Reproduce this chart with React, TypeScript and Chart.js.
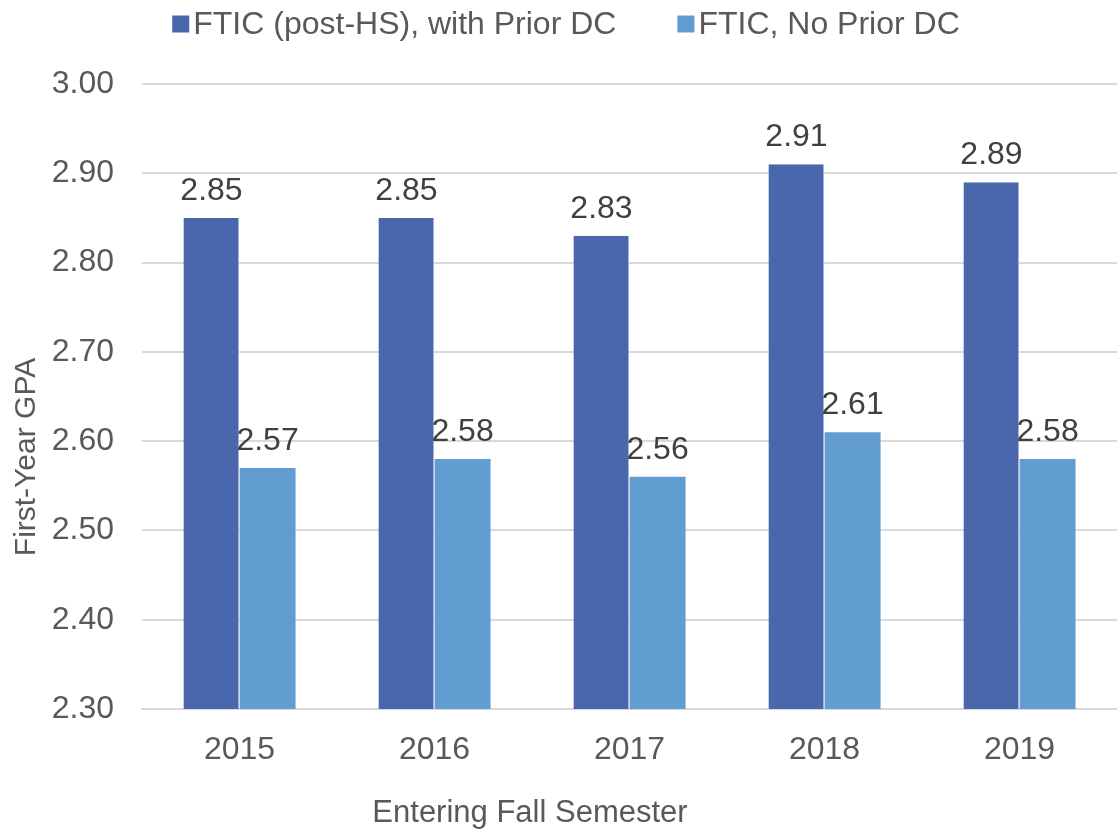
import React, { useEffect, useRef } from "react";
import { Chart, registerables } from "chart.js";

Chart.register(...registerables);

const categories = ["2015", "2016", "2017", "2018", "2019"];
const seriesNames = ["FTIC (post-HS), with Prior DC", "FTIC, No Prior DC"];
const withPriorDC = [2.85, 2.85, 2.83, 2.91, 2.89];
const noPriorDC = [2.57, 2.58, 2.56, 2.61, 2.58];
const seriesColors = ["#4A66AC", "#629DD1"];
const yTitle = "First-Year GPA";
const xTitle = "Entering Fall Semester";

const FONT = "'Liberation Sans', Arial, sans-serif";

const dataLabelPlugin = {
  id: "dataLabels",
  afterDatasetsDraw(chart: any) {
    const ctx = chart.ctx;
    ctx.save();
    ctx.font = `32px ${FONT}`;
    ctx.fillStyle = "#404040";
    ctx.textAlign = "center";
    ctx.textBaseline = "alphabetic";
    chart.data.datasets.forEach((ds: any, i: number) => {
      const meta = chart.getDatasetMeta(i);
      meta.data.forEach((bar: any, j: number) => {
        ctx.fillText(Number(ds.data[j]).toFixed(2), bar.x, bar.y - 18);
      });
    });
    ctx.restore();
  },
};

const decorPlugin = {
  id: "decor",
  afterDraw(chart: any) {
    const ctx = chart.ctx;
    ctx.save();
    // Legend
    ctx.font = `32px ${FONT}`;
    ctx.textBaseline = "middle";
    ctx.textAlign = "left";
    const box = 17;
    const gap = 4;
    const itemGap = 61;
    const widths = chart.data.datasets.map((d: any) => ctx.measureText(d.label).width);
    const total =
      widths.reduce((a: number, w: number) => a + box + gap + w, 0) + itemGap * (widths.length - 1);
    let x = 566 - total / 2;
    const cy = 24;
    chart.data.datasets.forEach((d: any, i: number) => {
      ctx.fillStyle = d.backgroundColor;
      ctx.fillRect(x, cy - box / 2, box, box);
      ctx.fillStyle = "#595959";
      ctx.fillText(d.label, x + box + gap, cy + 1);
      x += box + gap + widths[i] + itemGap;
    });
    // X title
    ctx.font = `31px ${FONT}`;
    ctx.textAlign = "center";
    ctx.fillStyle = "#595959";
    ctx.fillText(xTitle, 530, 813);
    // Y title
    ctx.font = `30px ${FONT}`;
    ctx.translate(27, 457);
    ctx.rotate(-Math.PI / 2);
    ctx.fillText(yTitle, 0, 0);
    ctx.restore();
  },
};

export default function App() {
  const ref = useRef<HTMLCanvasElement>(null);
  useEffect(() => {
    if (!ref.current) return;
    const chart = new Chart(ref.current, {
      type: "bar",
      data: {
        labels: categories,
        datasets: [
          {
            label: seriesNames[0],
            data: withPriorDC,
            backgroundColor: seriesColors[0],
            borderColor: "#ffffff",
            borderWidth: { right: 1 },
          },
          {
            label: seriesNames[1],
            data: noPriorDC,
            backgroundColor: seriesColors[1],
            borderWidth: 0,
          },
        ],
      },
      options: {
        animation: false,
        responsive: true,
        maintainAspectRatio: false,
        layout: { padding: { top: 84, right: 0, left: 0, bottom: 0 } },
        datasets: { bar: { categoryPercentage: 0.575, barPercentage: 1 } },
        plugins: {
          legend: { display: false },
          tooltip: { enabled: false },
        },
        scales: {
          x: {
            grid: { display: false },
            border: { display: true, color: "#d9d9d9", width: 2 },
            ticks: { font: { family: FONT, size: 32 }, color: "#595959", padding: 14 },
            afterFit: (s: any) => {
              s.height = 120;
            },
          },
          y: {
            min: 2.3,
            max: 3.0,
            ticks: {
              stepSize: 0.1,
              font: { family: FONT, size: 32 },
              color: "#595959",
              padding: 28,
              callback: (v: any) => Number(v).toFixed(2),
            },
            grid: { color: "#d9d9d9", lineWidth: 2, drawTicks: false },
            border: { display: false },
            afterFit: (s: any) => {
              s.width = 142;
            },
          },
        },
      },
      plugins: [dataLabelPlugin, decorPlugin],
    });
    return () => chart.destroy();
  }, []);
  return (
    <div style={{ position: "fixed", left: 0, top: 0, width: 1117, height: 829, background: "#fff" }}>
      <canvas ref={ref} />
    </div>
  );
}
